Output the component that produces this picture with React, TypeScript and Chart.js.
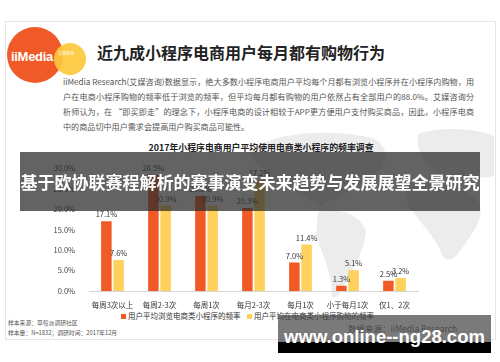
import React, { useEffect, useRef } from "react";
import { Chart, registerables } from "chart.js";

Chart.register(...registerables);

const categories = ["每周3次以上", "每周2-3次", "每周1次", "每月2-3次", "每月1次", "小于每月1次", "仅1、2次"];
const browseValues = [17.1, 28.5, 23.3, 20.3, 7.0, 1.3, 2.5];
const buyValues = [7.6, 20.9, 20.9, 27.2, 11.4, 5.1, 3.2];
const seriesNames = ["用户平均浏览电商类小程序的频率", "用户平均在电商类小程序购物的频率"];
const yTicks = [0, 5, 10, 15, 20, 25, 30];

const chartTitle = "2017年小程序电商用户平均使用电商类小程序的频率调查";
const headTitle = "近九成小程序电商用户每月都有购物行为";
const paraLines = [
  "iiMedia Research(艾媒咨询)数据显示，绝大多数小程序电商用户平均每个月都有浏览小程序并在小程序内购物，用",
  "户在电商小程序购物的频率低于浏览的频率，但平均每月都有购物的用户依然占有全部用户的88.0%。艾媒咨询分",
  "析师认为，在 “即买即走”的理念下，小程序电商的设计相较于APP更方便用户支付购买商品，因此，小程序电商",
  "中的商品切中用户需求会提高用户购买商品可能性。",
];
const bannerText = "基于欧协联赛程解析的赛事演变未来趋势与发展展望全景研究";
const siteText = "www.online--ng28.com";

const RED = "#f15a24";
const YELLOW = "#fdd15c";
const CJK = '"Noto Sans CJK SC", "Noto Sans", sans-serif';

const labelPlugin = {
  id: "valLabels",
  afterDatasetsDraw(chart: any) {
    const ctx = chart.ctx;
    ctx.save();
    ctx.font = `7.5px ${CJK}`;
    ctx.fillStyle = "#333";
    ctx.textAlign = "center";
    ctx.textBaseline = "bottom";
    chart.data.datasets.forEach((ds: any, i: number) => {
      const meta = chart.getDatasetMeta(i);
      meta.data.forEach((el: any, j: number) => {
        ctx.fillText(ds.data[j].toFixed(1) + "%", el.x, el.y - 3);
      });
    });
    ctx.restore();
  },
};

function BarChart() {
  const ref = useRef<HTMLCanvasElement>(null);
  useEffect(() => {
    const chart = new Chart(ref.current!, {
      type: "bar",
      data: {
        labels: categories,
        datasets: [
          { label: seriesNames[0], data: browseValues, backgroundColor: RED, categoryPercentage: 0.52, barPercentage: 0.86 },
          { label: seriesNames[1], data: buyValues, backgroundColor: YELLOW, categoryPercentage: 0.52, barPercentage: 0.86 },
        ],
      },
      options: {
        animation: false,
        responsive: false,
        maintainAspectRatio: false,
        layout: { padding: { top: 5.5, right: 6, left: 0, bottom: 0 } },
        plugins: { legend: { display: false }, tooltip: { enabled: false } },
        scales: {
          x: {
            grid: { display: false },
            border: { display: true, color: "#d6d6d6" },
            ticks: { font: { size: 7.5, family: CJK }, color: "#333", padding: 2, maxRotation: 0, autoSkip: false },
            afterFit: (s: any) => { s.height = 19; },
          },
          y: {
            min: 0,
            max: 30,
            grid: { display: false },
            border: { display: false },
            afterBuildTicks: (s: any) => { s.ticks = yTicks.map((v) => ({ value: v })); },
            ticks: { font: { size: 7.5, family: CJK }, color: "#444", padding: 6, callback: (v: any) => Number(v).toFixed(1) + "%" },
            afterFit: (s: any) => { s.width = 49; },
          },
        },
      },
      plugins: [labelPlugin],
    });
    return () => chart.destroy();
  }, []);
  return <canvas ref={ref} width={384} height={152} style={{ position: "absolute", left: 40, top: 158, width: 384, height: 152 }} />;
}

export default function App() {
  useEffect(() => {
    document.body.style.margin = "0";
  }, []);
  return (
    <div style={{ position: "relative", width: 500, height: 362, background: "#fff", overflow: "hidden", fontFamily: CJK }}>
      {/* panel */}
      <div style={{ position: "absolute", left: 5, top: 21, width: 489, height: 317, border: "1px solid #e6e6e6", background: "#fff" }} />
      {/* faint world map */}
      <svg width={500} height={362} style={{ position: "absolute", left: 0, top: 0 }}>
        <g fill="#ececec">
          <path d="M250 150 C275 132 330 128 372 138 C392 146 388 168 370 178 C352 190 336 196 322 206 C306 198 286 188 272 176 C260 168 252 160 250 150 Z" />
          <path d="M318 212 C340 206 362 216 366 232 C364 252 352 270 342 290 C336 300 330 300 332 290 C330 270 322 252 316 236 Z" />
          <path d="M412 186 C440 180 470 188 480 204 C484 222 470 236 458 254 C450 262 444 262 440 250 C434 236 420 222 410 208 C404 198 404 190 412 186 Z" />
          <path d="M418 134 C440 126 475 128 494 136 L494 176 C476 180 452 178 436 172 C424 164 416 150 418 134 Z" />
        </g>
      </svg>
      {/* logo */}
      <div style={{ position: "absolute", left: 7, top: 27, width: 56, height: 56, borderRadius: "50%", background: "#f05a28" }} />
      <div style={{ position: "absolute", left: 54, top: 43, width: 32, height: 32, borderRadius: "50%", background: "rgba(253,200,60,0.92)" }} />
      <div style={{ position: "absolute", left: 11, top: 49, color: "#fff", fontWeight: 700, fontSize: 13, fontFamily: "Liberation Sans, Arial, sans-serif", letterSpacing: -0.3 }}>iiMedia</div>
      <div style={{ position: "absolute", left: 58, top: 51, color: "#fff", fontSize: 4, lineHeight: "5px" }}>艾媒咨询</div>
      {/* head title */}
      <div style={{ position: "absolute", left: 97, top: 42, fontSize: 16, fontWeight: 700, color: "#222", whiteSpace: "nowrap", lineHeight: "20px" }}>{headTitle}</div>
      {paraLines.map((t, i) => (
        <div
          key={i}
          style={{
            position: "absolute",
            left: 63,
            top: 76 + i * 15,
            width: i < 3 ? 411 : undefined,
            fontSize: 8.1,
            color: "#555",
            whiteSpace: "nowrap",
            lineHeight: "12px",
            textAlign: i < 3 ? "justify" : "left",
            textAlignLast: i < 3 ? "justify" : "left",
          } as any}
        >
          {t}
        </div>
      ))}
      {/* chart title */}
      <div style={{ position: "absolute", left: 0, width: 522, top: 142, textAlign: "center", fontSize: 8.9, fontWeight: 700, color: "#222", whiteSpace: "nowrap", lineHeight: "12px" }}>{chartTitle}</div>
      <BarChart />
      {/* legend */}
      <div style={{ position: "absolute", left: 121, top: 314, width: 5, height: 5, background: RED }} />
      <div style={{ position: "absolute", left: 128, top: 310, fontSize: 7.5, color: "#333", whiteSpace: "nowrap", lineHeight: "12px" }}>{seriesNames[0]}</div>
      <div style={{ position: "absolute", left: 247, top: 314, width: 5, height: 5, background: YELLOW }} />
      <div style={{ position: "absolute", left: 254, top: 310, fontSize: 7.5, color: "#333", whiteSpace: "nowrap", lineHeight: "12px" }}>{seriesNames[1]}</div>
      {/* footer */}
      <div style={{ position: "absolute", left: 8, top: 319, fontSize: 5.8, color: "#555", whiteSpace: "nowrap", lineHeight: "8px" }}>样本来源：草莓派调研社区</div>
      <div style={{ position: "absolute", left: 8, top: 329, fontSize: 5.8, color: "#555", whiteSpace: "nowrap", lineHeight: "8px" }}>样本量：N=1832；调研时间：2017年12月</div>
      <div style={{ position: "absolute", left: 348, top: 322, fontSize: 8.5, color: "#555", whiteSpace: "nowrap", lineHeight: "12px" }}>数据来源：iiMedia Research</div>
      {/* overlay banner */}
      <div style={{ position: "absolute", left: 20, top: 152, width: 460, height: 59, background: "rgba(45,45,45,0.74)" }} />
      <div style={{ position: "absolute", left: 20, top: 152, width: 460, height: 59, display: "flex", alignItems: "center", justifyContent: "center", color: "#fff", fontWeight: 700, fontSize: 17, whiteSpace: "nowrap" }}>{bannerText}</div>
      {/* bottom site banner */}
      <div style={{ position: "absolute", left: 278, top: 315, width: 213, height: 38, background: "rgba(70,70,70,0.72)" }} />
      <div style={{ position: "absolute", left: 278, top: 342, width: 213, height: 11, background: "#000" }} />
      <div style={{ position: "absolute", left: 278, top: 324, width: 213, height: 26, display: "flex", alignItems: "center", justifyContent: "center", color: "#fff", fontWeight: 700, fontSize: 18.5, fontFamily: '"Liberation Sans", Arial, sans-serif', whiteSpace: "nowrap" }}>{siteText}</div>
    </div>
  );
}
